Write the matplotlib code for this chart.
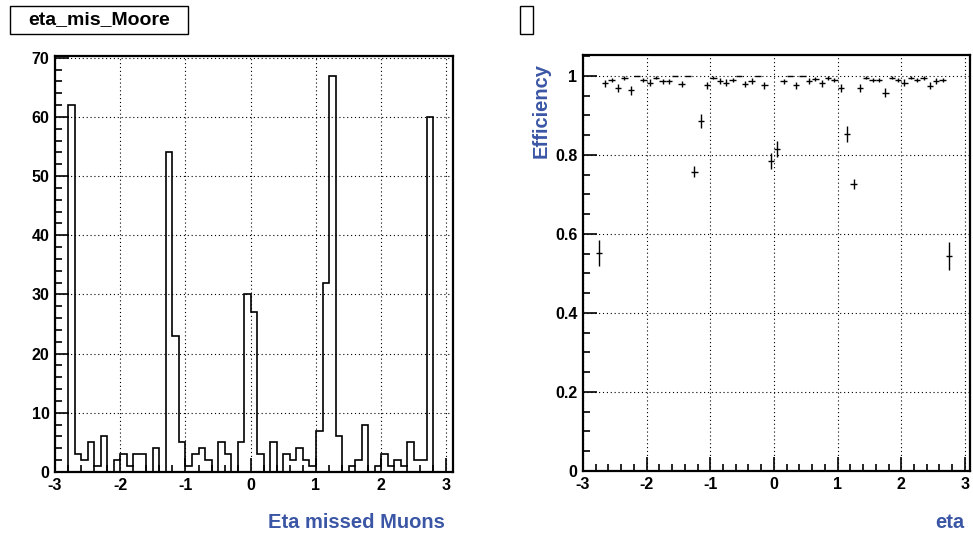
import numpy as np
import matplotlib.pyplot as plt
from matplotlib.patches import Rectangle
from matplotlib.ticker import MultipleLocator

# histogram of missed muons: 61 bins of 0.1 from -3.0 to 3.1
edges = np.round(np.arange(-3.0, 3.1001, 0.1), 2)
missed = [0, 0, 62, 3, 2, 5, 1, 6, 0, 2,
          3, 1, 3, 3, 0, 4, 0, 54, 23, 5,
          1, 3, 4, 2, 0, 5, 3, 0, 5, 30,
          27, 3, 0, 5, 0, 3, 2, 4, 2, 1,
          7, 32, 67, 6, 0, 1, 2, 8, 0, 1,
          3, 1, 2, 1, 5, 2, 2, 60, 0, 0, 0]

# efficiency vs eta (bin centres -2.75 ... 2.75)
eta_c = np.round(np.arange(-2.75, 2.7501, 0.1), 2)
eff = [0.552, 0.981, 0.990, 0.970, 0.994, 0.964, 1.000, 0.990, 0.983, 0.996,
       0.986, 0.986, 1.000, 0.979, 1.000, 0.758, 0.886, 0.976, 0.996, 0.987,
       0.983, 0.990, 1.000, 0.979, 0.987, 1.000, 0.976, 0.785, 0.815, 0.986,
       1.000, 0.976, 1.000, 0.987, 0.993, 0.981, 0.994, 0.990, 0.970, 0.853,
       0.727, 0.970, 0.996, 0.990, 0.990, 0.958, 0.996, 0.990, 0.983, 0.996,
       0.990, 0.994, 0.975, 0.987, 0.990, 0.545]
eff_err = [0.033, 0.008, 0.006, 0.010, 0.005, 0.011, 0.0, 0.006, 0.008, 0.004,
           0.007, 0.007, 0.0, 0.008, 0.0, 0.015, 0.018, 0.009, 0.004, 0.007,
           0.008, 0.006, 0.0, 0.008, 0.007, 0.0, 0.009, 0.020, 0.020, 0.007,
           0.0, 0.009, 0.0, 0.007, 0.005, 0.008, 0.005, 0.006, 0.010, 0.020,
           0.013, 0.010, 0.004, 0.006, 0.006, 0.012, 0.004, 0.006, 0.008, 0.004,
           0.006, 0.005, 0.009, 0.007, 0.006, 0.035]

blue = '#3a56a5'
plt.rcParams['font.family'] = ['Liberation Sans', 'DejaVu Sans']
plt.rcParams['font.weight'] = 'bold'
plt.rcParams['axes.unicode_minus'] = False

fig = plt.figure(figsize=(9.73, 5.37), dpi=100)
ax1 = fig.add_axes([55 / 973, 65 / 537, 398 / 973, 416 / 537])
ax2 = fig.add_axes([583 / 973, 66 / 537, 387 / 973, 416 / 537])


def root_style(ax):
    for s in ax.spines.values():
        s.set_linewidth(1.6)
    ax.tick_params(which='both', direction='in', top=False, right=False,
                   labelsize=11.5, width=1.2)
    ax.tick_params(which='major', length=10, pad=4)
    ax.tick_params(which='minor', length=5)
    ax.grid(True, which='major', color='black', linestyle=(0, (1, 2.5)), lw=0.8)
    ax.set_axisbelow(True)
    for lab in ax.get_xticklabels() + ax.get_yticklabels():
        lab.set_fontweight('bold')


# left: histogram
ax1.stairs(missed, edges, color='black', lw=1.2)
ax1.set_xlim(-3.0, 3.1)
ax1.set_ylim(0, 70.3)
ax1.xaxis.set_major_locator(MultipleLocator(1))
ax1.xaxis.set_minor_locator(MultipleLocator(0.2))
ax1.yaxis.set_major_locator(MultipleLocator(10))
ax1.yaxis.set_minor_locator(MultipleLocator(2))
root_style(ax1)

# right: efficiency
ax2.errorbar(eta_c, eff, xerr=0.05, yerr=eff_err, fmt='none',
             ecolor='black', elinewidth=1.0)
ax2.set_xlim(-3.0, 3.08)
ax2.set_ylim(0, 1.053)
ax2.xaxis.set_major_locator(MultipleLocator(1))
ax2.xaxis.set_minor_locator(MultipleLocator(0.2))
ax2.yaxis.set_minor_locator(MultipleLocator(0.05))
ax2.set_yticks([0, 0.2, 0.4, 0.6, 0.8, 1.0])
ax2.set_yticklabels(['0', '0.2', '0.4', '0.6', '0.8', '1'])
root_style(ax2)

# axis titles
fig.text(445 / 973, 1 - 522 / 537, 'Eta missed Muons', ha='right', va='center',
         fontsize=14.5, fontweight='bold', color=blue)
fig.text(964 / 973, 1 - 522 / 537, 'eta', ha='right', va='center',
         fontsize=14.5, fontweight='bold', color=blue)
fig.text(541 / 973, 1 - 63 / 537, 'Efficiency', ha='center', va='top',
         rotation=90, fontsize=14.5, fontweight='bold', color=blue)

# title boxes
fig.patches.append(Rectangle((10 / 973, 1 - 34 / 537), 178 / 973, 28 / 537,
                             transform=fig.transFigure, fc='white', ec='black', lw=1.0))
fig.text(99 / 973, 1 - 20 / 537, 'eta_mis_Moore', ha='center', va='center',
         fontsize=14, fontweight='bold')
fig.patches.append(Rectangle((520 / 973, 1 - 34 / 537), 13 / 973, 28 / 537,
                             transform=fig.transFigure, fc='white', ec='black', lw=1.0))

fig.savefig('out.png', dpi=100)
